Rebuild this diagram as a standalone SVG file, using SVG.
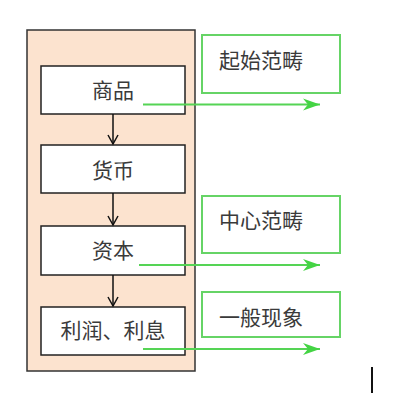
<svg xmlns="http://www.w3.org/2000/svg" width="400" height="403" viewBox="0 0 400 403">
<defs>
<style>
.outer{fill:#fce3cf;stroke:#333;stroke-width:1.5}
.box{fill:#fff;stroke:#222;stroke-width:1.5}
.gbox{fill:#fff;stroke:#66d466;stroke-width:2}
.t{font-family:"Noto Sans CJK SC",sans-serif;font-size:21px;fill:#3a3a3a}
.blk{stroke:#111;stroke-width:1.5;fill:none}
.grn{stroke:#55d455;stroke-width:2;fill:none}
</style>
<marker id="ab" markerWidth="12" markerHeight="12" refX="10" refY="6" orient="auto" markerUnits="userSpaceOnUse">
<path d="M1,1 L10,6 L1,11" fill="none" stroke="#111" stroke-width="1.5"/>
</marker>
<marker id="ag" markerWidth="18" markerHeight="14" refX="17" refY="7" orient="auto" markerUnits="userSpaceOnUse">
<path d="M0,1 L17,7 L0,13 L5,7 Z" fill="#44d444"/>
</marker>
</defs>
<rect class="outer" x="27" y="30" width="168" height="341"/>
<g id="n1"><rect class="box" x="41" y="66" width="144" height="48"/><text class="t" x="113" y="98" text-anchor="middle">商品</text></g>
<g id="n2"><rect class="box" x="41" y="145" width="144" height="48"/><text class="t" x="113" y="178" text-anchor="middle">货币</text></g>
<g id="n3"><rect class="box" x="41" y="226" width="144" height="49"/><text class="t" x="113" y="258" text-anchor="middle">资本</text></g>
<g id="n4"><rect class="box" x="41" y="307" width="144" height="48"/><text class="t" x="113" y="338" text-anchor="middle">利润、利息</text></g>
<g id="g1"><rect class="gbox" x="202" y="35" width="138" height="58"/><text class="t" x="219" y="68">起始范畴</text></g>
<g id="g2"><rect class="gbox" x="202" y="196" width="138" height="57"/><text class="t" x="219" y="228">中心范畴</text></g>
<g id="g3"><rect class="gbox" x="202" y="292" width="138" height="45"/><text class="t" x="219" y="325">一般现象</text></g>
<g id="connectors">
<line class="blk" x1="113" y1="114" x2="113" y2="144" marker-end="url(#ab)"/>
<line class="blk" x1="113" y1="193" x2="113" y2="225" marker-end="url(#ab)"/>
<line class="blk" x1="113" y1="275" x2="113" y2="306" marker-end="url(#ab)"/>
<line class="grn" x1="143" y1="104.5" x2="320" y2="104.5" marker-end="url(#ag)"/>
<line class="grn" x1="139" y1="265" x2="320" y2="265" marker-end="url(#ag)"/>
<line class="grn" x1="143" y1="349" x2="320" y2="349" marker-end="url(#ag)"/>
</g>
<line x1="372" y1="367" x2="372" y2="393" stroke="#111" stroke-width="2"/>
</svg>
